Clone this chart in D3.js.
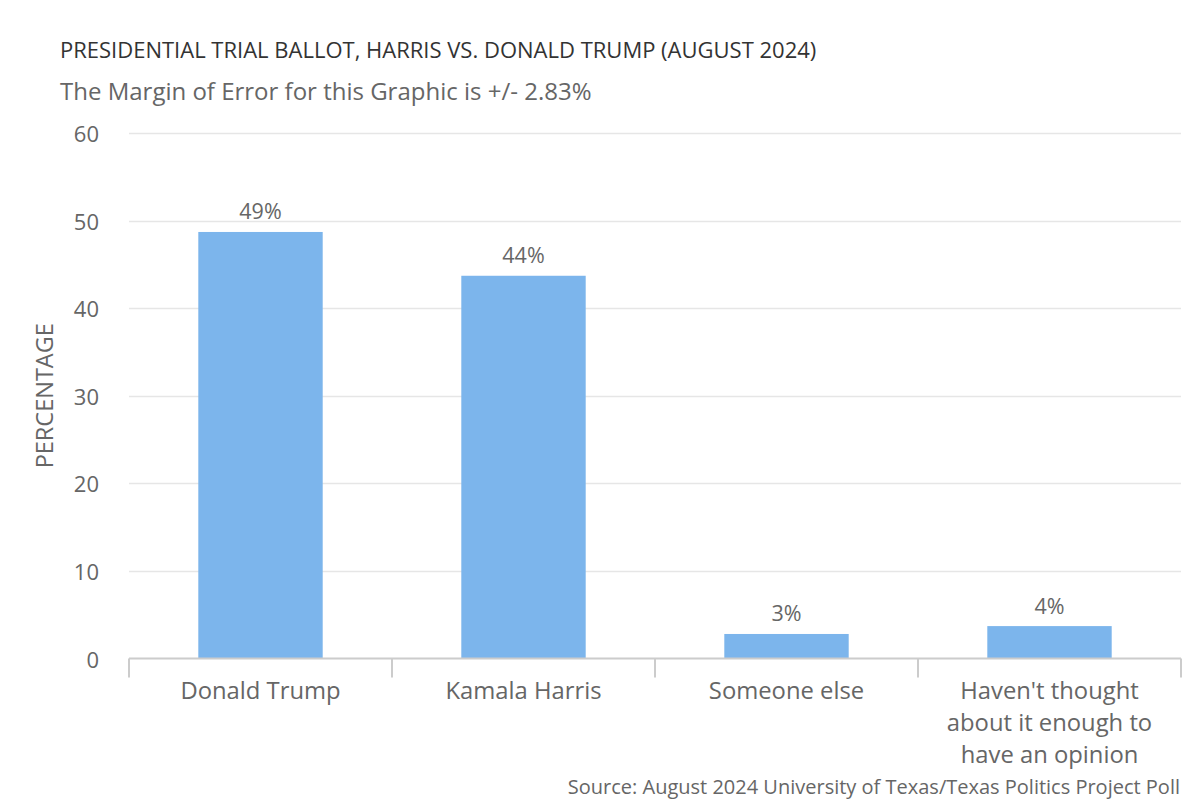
<!DOCTYPE html>
<html><head><meta charset="utf-8">
<script src="https://cdn.jsdelivr.net/npm/d3@7"></script>
<style>
html,body{margin:0;padding:0;background:#fff;}
svg{display:block;font-family:"Open Sans",sans-serif;}
</style></head>
<body>
<svg id="chart" width="1200" height="800"></svg>
<script>
const categories = ["Donald Trump", "Kamala Harris", "Someone else", "Haven't thought about it enough to have an opinion"];
const categoryLines = [["Donald Trump"], ["Kamala Harris"], ["Someone else"], ["Haven't thought", "about it enough to", "have an opinion"]];
const values = [48.7, 43.7, 2.8, 3.7];
const valueLabels = ["49%", "44%", "3%", "4%"];
const yTicks = [0, 10, 20, 30, 40, 50, 60];
const titleText = "PRESIDENTIAL TRIAL BALLOT, HARRIS VS. DONALD TRUMP (AUGUST 2024)";
const subtitleText = "The Margin of Error for this Graphic is +/- 2.83%";
const yAxisTitle = "PERCENTAGE";
const sourceText = "Source: August 2024 University of Texas/Texas Politics Project Poll";

const svg = d3.select("#chart");
const plot = {left: 129, right: 1181, top: 133, bottom: 658.5};

const x = d3.scaleBand().domain(categories).range([plot.left, plot.right]).paddingInner(0.527).paddingOuter(0.2635);
const xCat = d3.scaleBand().domain(categories).range([plot.left, plot.right]).padding(0);
const y = d3.scaleLinear().domain([0, 60]).range([plot.bottom, plot.top]);

// title & subtitle
svg.append("text").attr("x", 60).attr("y", 58).attr("fill", "#333").attr("font-size", 22).text(titleText);
svg.append("text").attr("x", 60).attr("y", 100).attr("fill", "#666").attr("font-size", 24).text(subtitleText);

// gridlines
svg.append("g").selectAll("line").data(yTicks.filter(d => d > 0)).join("line")
  .attr("x1", plot.left).attr("x2", plot.right)
  .attr("y1", d => Math.round(y(d)) + 0.5).attr("y2", d => Math.round(y(d)) + 0.5)
  .attr("stroke", "#e6e6e6").attr("stroke-width", 1.5);

// y tick labels
svg.append("g").selectAll("text").data(yTicks).join("text")
  .attr("x", 99).attr("y", d => y(d) + 9)
  .attr("text-anchor", "end").attr("fill", "#666").attr("font-size", 22)
  .text(d => d);

// y axis title
svg.append("text").attr("transform", `translate(53,${(plot.top + plot.bottom) / 2}) rotate(-90)`)
  .attr("text-anchor", "middle").attr("fill", "#666").attr("font-size", 23.5).text(yAxisTitle);

// bars
svg.append("g").selectAll("rect").data(categories).join("rect")
  .attr("x", d => x(d)).attr("width", x.bandwidth())
  .attr("y", (d, i) => y(values[i])).attr("height", (d, i) => y(0) - y(values[i]))
  .attr("fill", "#7cb5ec");

// value labels
svg.append("g").selectAll("text").data(categories).join("text")
  .attr("x", d => x(d) + x.bandwidth() / 2).attr("y", (d, i) => y(values[i]) - 12.5)
  .attr("text-anchor", "middle").attr("fill", "#666").attr("font-size", 21.5)
  .text((d, i) => valueLabels[i]);

// x axis
const xAxis = svg.append("g");
xAxis.append("line").attr("x1", plot.left).attr("x2", plot.right)
  .attr("y1", plot.bottom).attr("y2", plot.bottom).attr("stroke", "#ccc").attr("stroke-width", 2);
const boundaries = categories.map(c => xCat(c)).concat([xCat(categories[categories.length - 1]) + xCat.bandwidth()]);
xAxis.selectAll("line.tick").data(boundaries).join("line").attr("class", "tick")
  .attr("x1", d => d).attr("x2", d => d).attr("y1", plot.bottom).attr("y2", plot.bottom + 19)
  .attr("stroke", "#ccc").attr("stroke-width", 2);

const catText = xAxis.selectAll("text.cat").data(categories).join("text").attr("class", "cat")
  .attr("text-anchor", "middle").attr("fill", "#666").attr("font-size", 23.8);
catText.each(function(d, i) {
  const t = d3.select(this);
  categoryLines[i].forEach((line, j) => {
    t.append("tspan").attr("x", xCat(d) + xCat.bandwidth() / 2).attr("y", 699 + j * 32).text(line);
  });
});

// source
svg.append("text").attr("x", 1180).attr("y", 794).attr("text-anchor", "end")
  .attr("fill", "#666").attr("font-size", 20).text(sourceText);
</script>
</body></html>
